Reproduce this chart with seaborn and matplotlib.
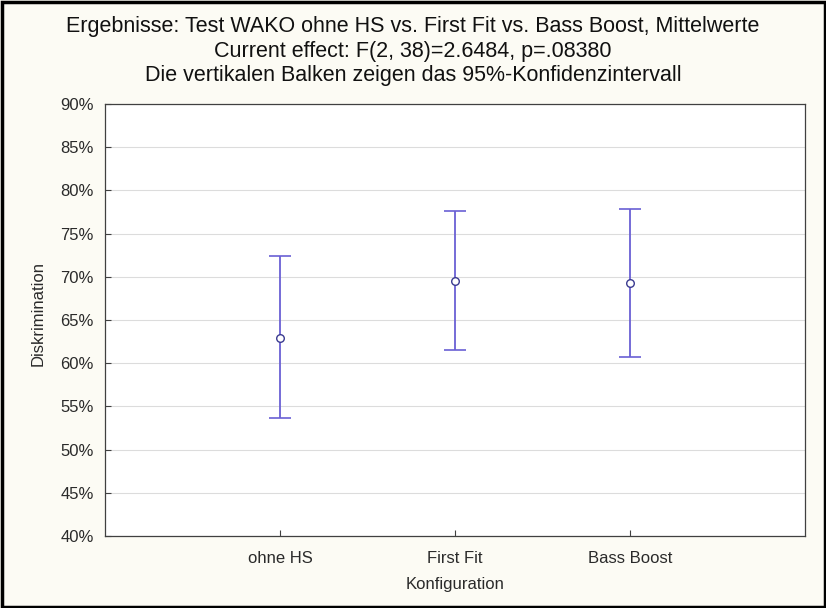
import matplotlib
matplotlib.use("Agg")
import matplotlib.pyplot as plt
import seaborn as sns
import pandas as pd
from matplotlib.patches import Rectangle
from matplotlib.ticker import FuncFormatter, MultipleLocator

categories = ["ohne HS", "First Fit", "Bass Boost"]
means = [62.9, 69.5, 69.3]
lower = [53.6, 61.5, 60.7]
upper = [72.4, 77.6, 77.8]

df = pd.DataFrame({"Konfiguration": categories, "Diskrimination": means})

sns.set_theme(style="white")
plt.rcParams["font.family"] = ["Liberation Sans", "DejaVu Sans"]

fig = plt.figure(figsize=(8.26, 6.08), dpi=100, facecolor="#fcfbf4")
ax = fig.add_axes([105/826, 1-536/608, 700/826, 432/608])
ax.set_facecolor("white")

bar_col = "#6a60d4"
cap_col = "#3a3a3a"
xs = list(range(len(categories)))
yerr = [[m - l for m, l in zip(means, lower)], [u - m for m, u in zip(means, upper)]]
_, caps, _ = ax.errorbar(xs, means, yerr=yerr, fmt="none", ecolor=bar_col, elinewidth=1.3,
                         capsize=8, capthick=1.2, zorder=3)
for c in caps:
    c.set_color(cap_col)
sns.scatterplot(data=df, x="Konfiguration", y="Diskrimination", ax=ax,
                marker="o", s=30, facecolor="white", edgecolor="#3a3a90",
                linewidth=1.0, zorder=4)

ax.set_xlim(-1, 3)
ax.set_ylim(40, 90)
ax.yaxis.set_major_locator(MultipleLocator(5))
ax.yaxis.set_major_formatter(FuncFormatter(lambda v, p: f"{v:.0f}%"))
ax.grid(axis="y", color="#dcdcdc", linewidth=0.8)
ax.set_axisbelow(True)
for s in ax.spines.values():
    s.set_color("#404040")
    s.set_linewidth(0.9)
ax.tick_params(axis="both", direction="in", length=4, width=0.8, color="#404040",
               labelsize=12, labelcolor="#2a2a2a")
ax.tick_params(axis="y", left=True, pad=8)
ax.tick_params(axis="x", bottom=True, pad=11)
ax.set_xlabel("Konfiguration", fontsize=12, color="#2a2a2a", labelpad=8)
ax.set_ylabel("Diskrimination", fontsize=12, color="#2a2a2a", labelpad=6)
ax.yaxis.set_label_coords(-0.085, 0.514)

title_lines = [
    "Ergebnisse: Test WAKO ohne HS vs. First Fit vs. Bass Boost, Mittelwerte",
    "Current effect: F(2, 38)=2.6484, p=.08380",
    "Die vertikalen Balken zeigen das 95%-Konfidenzintervall",
]
for i, line in enumerate(title_lines):
    fig.text(0.5, 1 - (32 + 24.5 * i) / 608, line, ha="center", va="baseline",
             fontsize=15.5, color="#111111")

fig.patches.append(Rectangle((1.5/826, 1.5/608), 1-3/826, 1-3/608, transform=fig.transFigure,
                             fill=False, edgecolor="black", linewidth=2.5))

fig.savefig("out.png", dpi=100, facecolor=fig.get_facecolor())
